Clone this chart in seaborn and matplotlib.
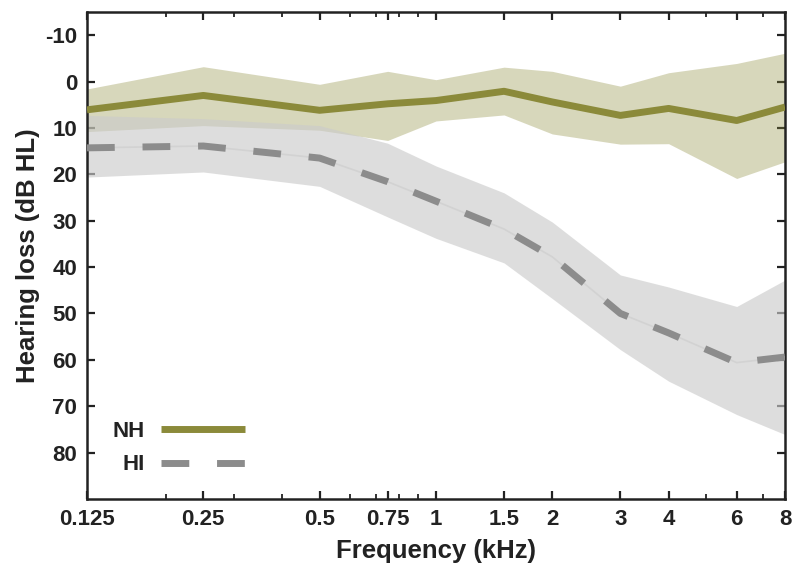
import matplotlib
matplotlib.use("Agg")
import matplotlib.pyplot as plt
import matplotlib.ticker as mticker
from matplotlib.lines import Line2D
import pandas as pd
import seaborn as sns

# Audiometric frequencies (kHz)
freqs = [0.125, 0.25, 0.5, 0.75, 1, 1.5, 2, 3, 4, 6, 8]
freq_labels = ["0.125", "0.25", "0.5", "0.75", "1", "1.5", "2", "3", "4", "6", "8"]
minor_freqs = [0.2, 0.3, 0.4, 0.6, 0.7, 0.8, 0.9, 5, 7]

# Normal-hearing group: mean threshold and band limits (dB HL)
nh_mean = [6.1, 3.0, 6.2, 4.8, 4.1, 2.1, 4.4, 7.3, 5.8, 8.4, 5.5]
nh_low = [1.6, -3.2, 0.6, -2.2, -0.4, -3.1, -2.2, 1.0, -1.9, -3.9, -6.1]
nh_high = [10.8, 9.5, 10.5, 12.7, 8.5, 7.2, 11.3, 13.5, 13.4, 20.9, 17.3]

# Hearing-impaired group: mean threshold and band limits (dB HL)
hi_mean = [14.3, 13.9, 16.5, 21.6, 25.8, 31.8, 37.8, 50.0, 54.2, 60.6, 59.4]
hi_low = [7.3, 8.0, 9.5, 13.3, 18.2, 24.0, 30.3, 41.7, 44.3, 48.5, 42.8]
hi_high = [20.6, 19.5, 22.6, 29.2, 33.8, 39.1, 46.8, 57.8, 64.6, 71.8, 76.1]

y_ticks = [-10, 0, 10, 20, 30, 40, 50, 60, 70, 80]

sns.set_style("ticks")
plt.rcParams["font.family"] = ["Liberation Sans", "DejaVu Sans"]
plt.rcParams["font.weight"] = "bold"
plt.rcParams["lines.solid_capstyle"] = "butt"
plt.rcParams["lines.dash_capstyle"] = "butt"

olive = "#8b8a3a"
gray = "#8c8c8c"
ink = "#222222"

df = pd.DataFrame({
    "freq": freqs * 2,
    "level": nh_mean + hi_mean,
    "group": ["NH"] * len(freqs) + ["HI"] * len(freqs),
})

fig = plt.figure(figsize=(7.95, 5.7), dpi=100)
ax = fig.add_axes([0.1094, 0.1246, 0.8780, 0.8544])

ax.fill_between(freqs, nh_low, nh_high, color=olive, alpha=0.34, linewidth=0, zorder=1)
ax.fill_between(freqs, hi_low, hi_high, color="#cbcbcb", alpha=0.64, linewidth=0, zorder=2)

# faint trace of the HI mean under the dashes
ax.plot(freqs, hi_mean, color="#d2d2d2", linewidth=1.2, zorder=3)

sns.lineplot(data=df, x="freq", y="level", hue="group", style="group",
             hue_order=["NH", "HI"], style_order=["NH", "HI"],
             palette={"NH": olive, "HI": gray},
             dashes={"NH": "", "HI": (4, 4)},
             linewidth=5, ax=ax, zorder=4, legend=False)
for ln in ax.get_lines():
    ln.set_solid_capstyle("butt")
    ln.set_dash_capstyle("butt")

ax.set_xscale("log", base=2)
ax.set_xlim(0.125, 8)
ax.xaxis.set_major_locator(mticker.FixedLocator(freqs))
ax.xaxis.set_major_formatter(mticker.FixedFormatter(freq_labels))
ax.xaxis.set_minor_locator(mticker.FixedLocator(minor_freqs))
ax.xaxis.set_minor_formatter(mticker.NullFormatter())

ax.set_ylim(90, -15)
ax.set_yticks(y_ticks)
ax.set_yticklabels([str(v) for v in y_ticks])

ax.tick_params(axis="both", which="major", direction="in", length=6, width=1.6,
               labelsize=16, pad=7, top=True, right=True, color=ink)
ax.tick_params(axis="both", which="minor", direction="in", length=3.5, width=1.3,
               top=True, right=True, color=ink)
for lab in ax.get_xticklabels() + ax.get_yticklabels():
    lab.set_fontweight("bold")
    lab.set_color(ink)

for side in ["left", "right", "top", "bottom"]:
    ax.spines[side].set_visible(True)
    ax.spines[side].set_linewidth(1.8)
    ax.spines[side].set_color(ink)

ax.set_xlabel("Frequency (kHz)", fontsize=18.5, fontweight="bold", labelpad=7, color=ink)
ax.set_ylabel("Hearing loss (dB HL)", fontsize=18.5, fontweight="bold", labelpad=4, color=ink)

handles = [
    Line2D([], [], color=olive, linewidth=5, solid_capstyle="butt"),
    Line2D([], [], color=gray, linewidth=5, dashes=(4, 4), dash_capstyle="butt"),
]
leg = ax.legend(handles, ["NH", "HI"], loc="center left", bbox_to_anchor=(0.037, 0.104),
                frameon=False, markerfirst=False, handlelength=3.8, handletextpad=0.7,
                labelspacing=0.55, borderpad=0, borderaxespad=0,
                prop={"size": 16, "weight": "bold"})
for t in leg.get_texts():
    t.set_color(ink)

fig.savefig("out.png", dpi=100)
